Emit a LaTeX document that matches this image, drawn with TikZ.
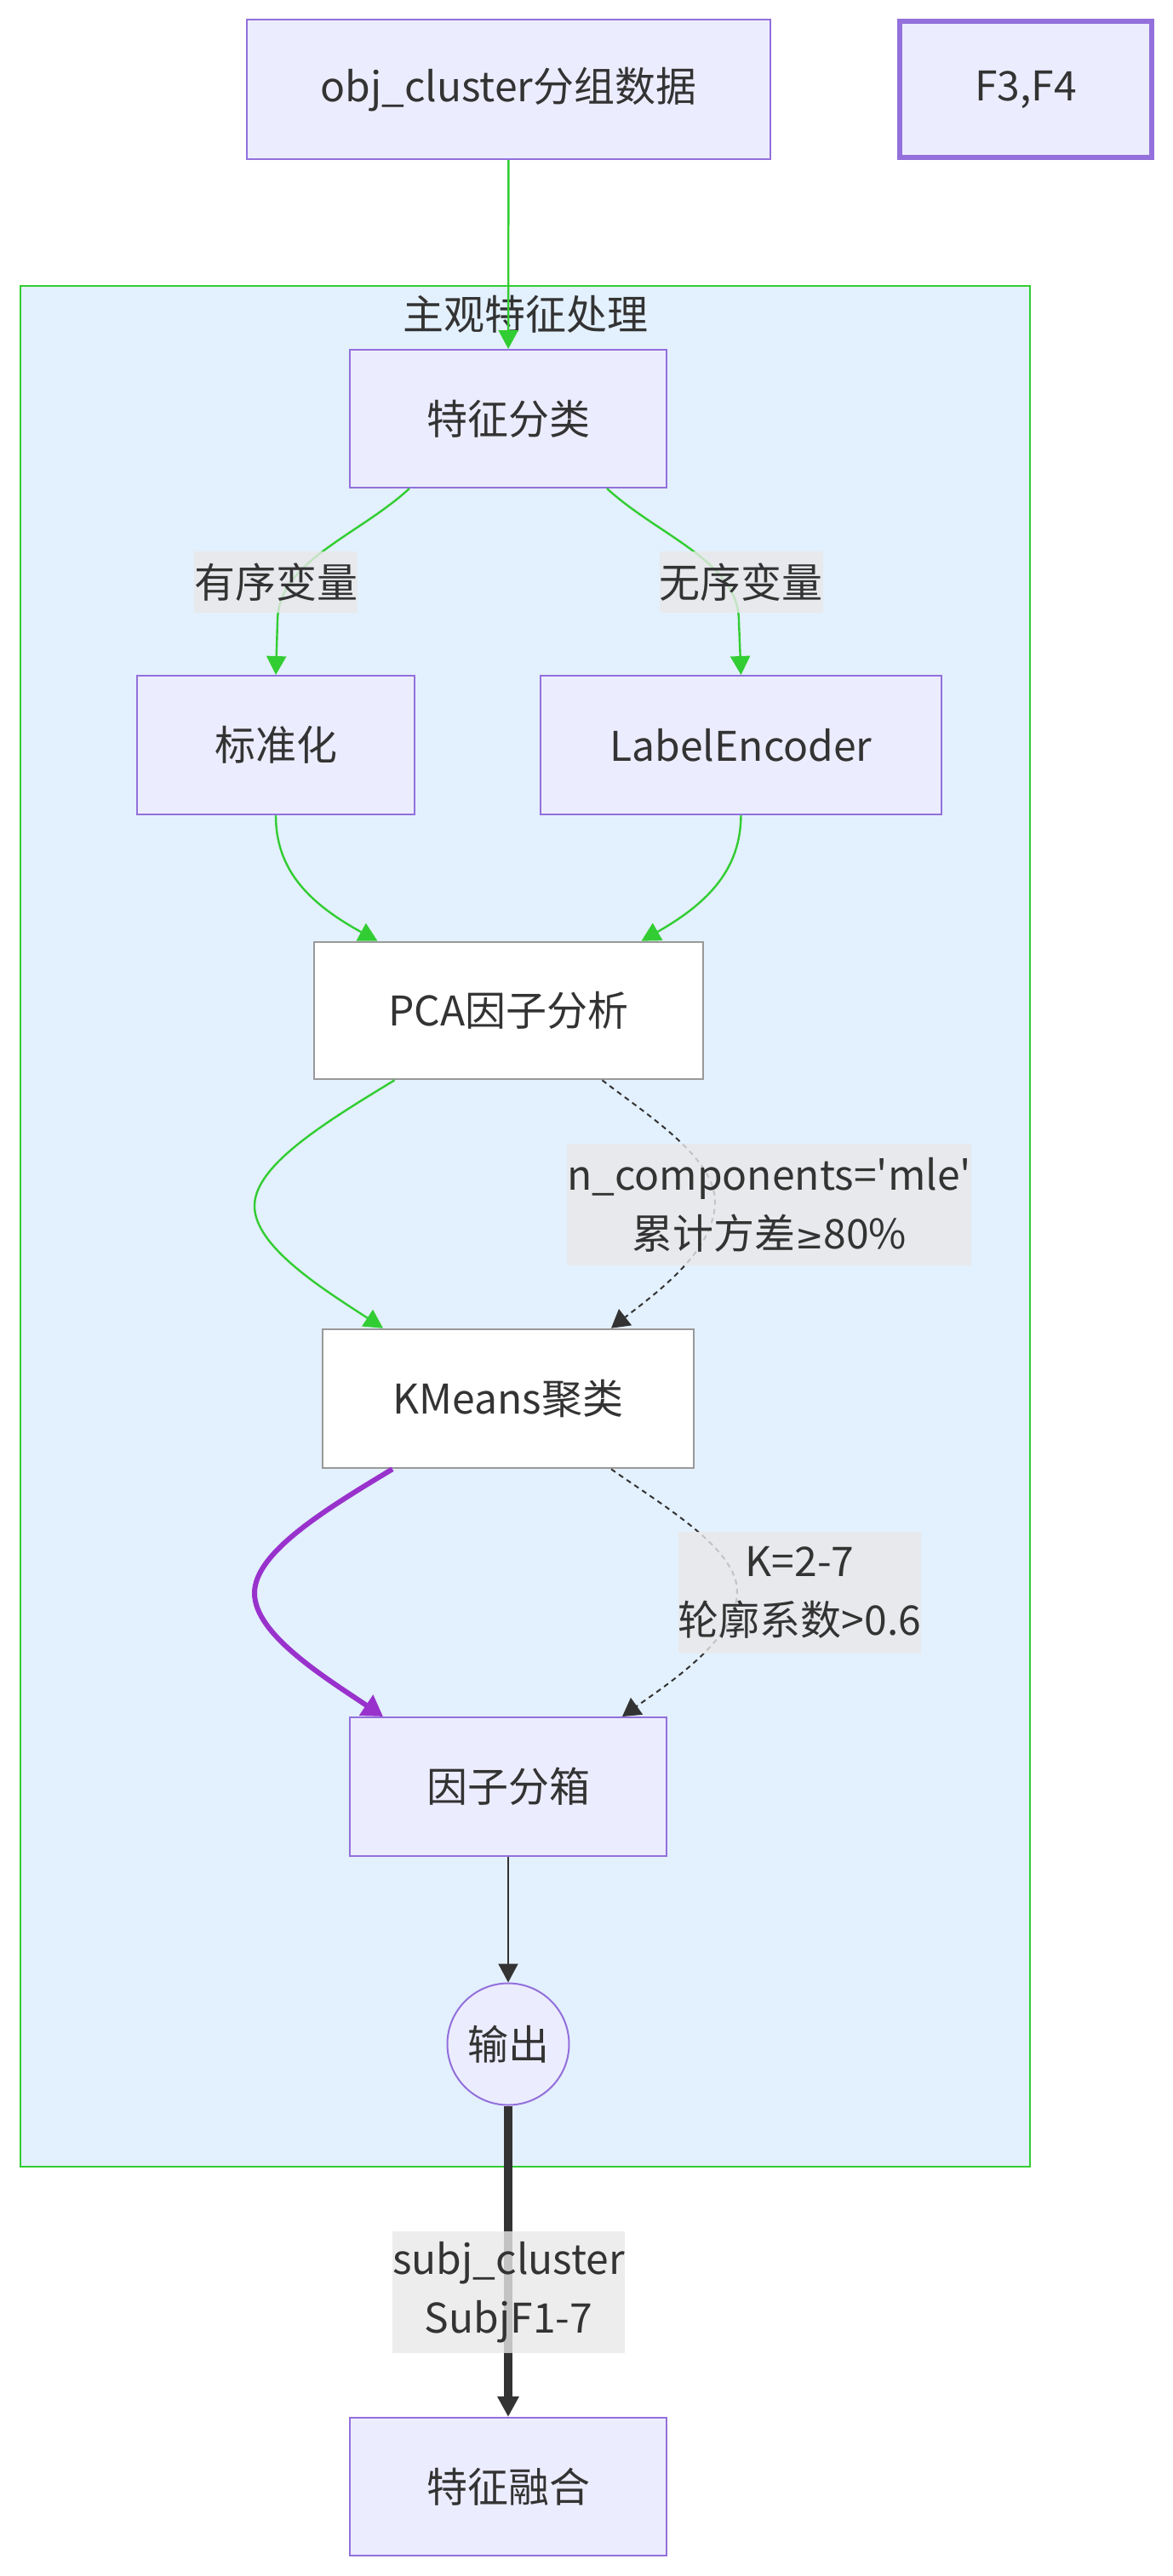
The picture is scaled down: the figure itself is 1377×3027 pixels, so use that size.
\documentclass[tikz,border=0pt]{standalone}
\usepackage{fontspec}
\setmainfont{Noto Sans CJK SC}
\newfontfamily\symfont{DejaVu Sans}
\usepackage{tikz}
\usetikzlibrary{arrows.meta,positioning}
\definecolor{nodefill}{HTML}{ECECFF}
\definecolor{nodeline}{HTML}{9370DB}
\definecolor{grayline}{HTML}{999999}
\definecolor{clusterfill}{HTML}{E3F0FD}
\definecolor{linkgreen}{HTML}{32CD32}
\definecolor{linkpurple}{HTML}{9932CC}
\definecolor{inkdark}{HTML}{333333}
\definecolor{lblgray}{HTML}{E8E8E8}

\begin{document}
\begin{tikzpicture}
	[x=0.5pt,y=-0.5pt,
	font=\fontsize{24}{34.5}\selectfont,
	box/.style={rectangle,draw=nodeline,fill=nodefill,line width=1pt,
		text=inkdark,inner sep=0pt},
	whitebox/.style={rectangle,draw=grayline,fill=white,line width=1.3pt,
		text=inkdark,inner sep=0pt},
	roundbox/.style={circle,draw=nodeline,fill=nodefill,line width=1pt,
		text=inkdark,inner sep=0pt,minimum size=71.5pt},
	lbl/.style={rectangle,fill=lblgray,fill opacity=0.8,text opacity=1,
		text=inkdark,inner sep=0pt,align=center},
	greenlink/.style={draw=linkgreen,line width=1.2pt,
		-{Triangle[width=11.5pt,length=11pt]}},
	dotlink/.style={draw=inkdark,line width=1pt,dash pattern=on 3pt off 2.5pt,
		-{Triangle[width=12pt,length=10.5pt]}},
	thinlink/.style={draw=inkdark,line width=1pt,
		-{Triangle[width=11.5pt,length=11pt]}}]
	\useasboundingbox (0,0) rectangle (1377,3027);
	%subgraph
	\draw[fill=clusterfill,draw=linkgreen,line width=1pt] (24,336) rectangle (1210,2546);
	\node (ttl) at (617,369) [text=inkdark] {主观特征处理};
	%nodes
	\node (obj) at (597.5,105) [box,minimum width=307.5pt,minimum height=82pt] {obj\_cluster分组数据};
	\node (f34) at (1205,105) [box,line width=3pt,minimum width=148pt,minimum height=80pt] {F3,F4};
	\node (fc) at (597,492) [box,minimum width=186pt,minimum height=81pt] {特征分类};
	\node (std) at (324,875.5) [box,minimum width=163pt,minimum height=81.5pt] {标准化};
	\node (le) at (870.5,875.5) [box,minimum width=235.5pt,minimum height=81.5pt] {LabelEncoder};
	\node (pca) at (597.5,1187.5) [whitebox,minimum width=228.5pt,minimum height=80.5pt] {PCA因子分析};
	\node (km) at (597,1643.5) [whitebox,minimum width=218pt,minimum height=81.5pt] {KMeans聚类};
	\node (bin) at (597,2099.5) [box,minimum width=186pt,minimum height=81.5pt] {因子分箱};
	\node (out) at (597,2402) [roundbox] {输出};
	\node (fuse) at (597,2922) [box,minimum width=186pt,minimum height=81pt] {特征融合};
	%links
	\draw[greenlink] (obj) -- (fc);
	\draw[greenlink] ([xshift=-58pt]fc.south) .. controls (420,630) and (326,660) .. (326,730) -- (std.north);
	\draw[greenlink] ([xshift=58pt]fc.south) .. controls (774,630) and (868,660) .. (868,730) -- (le.north);
	\draw[greenlink] (std.south) .. controls (324,1020) and (360,1060) .. ([xshift=-77pt]pca.north);
	\draw[greenlink] (le.south) .. controls (870,1020) and (834,1060) .. ([xshift=78pt]pca.north);
	\draw[greenlink] ([xshift=-67pt]pca.south) .. controls (380,1320) and (299,1370) .. (299,1417)
		.. controls (299,1465) and (380,1515) .. ([xshift=-73.5pt]km.north);
	\draw[dotlink] ([xshift=55pt]pca.south) .. controls (760,1310) and (840,1360) .. (840,1412)
		.. controls (840,1470) and (770,1520) .. ([xshift=60.5pt]km.north);
	\draw[draw=linkpurple,line width=3pt,-{Triangle[width=14pt,length=12pt]}]
		([xshift=-68pt]km.south) .. controls (380,1775) and (299,1825) .. (299,1872)
		.. controls (299,1920) and (380,1970) .. ([xshift=-73.5pt]bin.north);
	\draw[dotlink] ([xshift=60.5pt]km.south) .. controls (780,1770) and (866,1820) .. (866,1870)
		.. controls (866,1925) and (790,1975) .. ([xshift=67pt]bin.north);
	\draw[thinlink] (bin) -- (out);
	\draw[draw=inkdark,line width=5pt,-{Triangle[width=12pt,length=12pt]}] (out) -- (fuse);
	%link labels
	\node (l1) at (324,684) [lbl,minimum width=96pt,minimum height=36pt] {有序变量};
	\node (l2) at (870.5,684) [lbl,minimum width=96pt,minimum height=36pt] {无序变量};
	\node (l3) at (903.5,1415.5) [lbl,minimum width=215.5pt,minimum height=71.5pt]
		{n\_components=\textquotesingle mle\textquotesingle\\累计方差{\symfont\fontsize{20}{34.5}\selectfont ≥}80\%};
	\node (l4) at (939.5,1871.5) [lbl,minimum width=142.5pt,minimum height=71.5pt] {K=2-7\\轮廓系数>0.6};
	\node (l5) at (597.5,2693.5) [lbl,minimum width=131.5pt,minimum height=71.5pt] {subj\_cluster\\SubjF1-7};
\end{tikzpicture}
\end{document}
